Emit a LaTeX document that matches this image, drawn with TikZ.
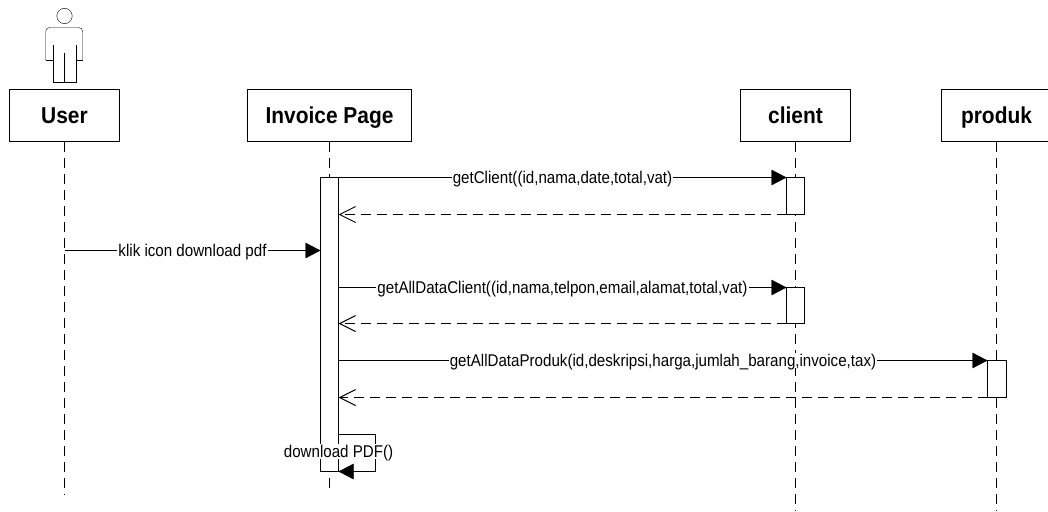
\documentclass[tikz,border=0pt]{standalone}
\usepackage{fontspec}
\setmainfont{Liberation Sans}
\newfontfamily\lblfont[FakeStretch=0.89]{Liberation Sans}
\newfontfamily\ttlfont[FakeStretch=0.91]{Liberation Sans Bold}
\usetikzlibrary{arrows.meta}
\tikzset{
  x=1pt,y=-1pt,line width=1pt,
  titlebox/.style={draw,fill=white,minimum height=52pt,inner sep=0pt,text height=18pt,text depth=2pt,font=\ttlfont\fontsize{23}{26}\selectfont},
  lifeline/.style={draw,dash pattern=on 10pt off 6pt},
  actbox/.style={draw,fill=white,minimum width=18pt,inner sep=0pt},
  call/.style={draw,-{Triangle[length=15pt,width=15.5pt]}},
  reply/.style={draw,dash pattern=on 10pt off 6pt,-{Straight Barb[length=16pt,width=16pt,line width=1pt]}},
  msglabel/.style={fill=white,inner xsep=1pt,inner ysep=0pt,text height=13.5pt,text depth=1pt,font=\lblfont\fontsize{17}{19}\selectfont},
}
\begin{document}
\begin{tikzpicture}
\useasboundingbox (0,0) rectangle (1048,511);
% actor
\draw (64.5,16) circle (7.7);
\draw[rounded corners=4pt] (45.7,60) -- (45.7,27.5) -- (82.7,27.5) -- (82.7,60);
\draw (82.7,60) -- (75.7,60) -- (75.7,82.3) -- (53.3,82.3) -- (53.3,60) -- (45.7,60);
\draw (53.3,45) -- (53.3,60) (75.7,45) -- (75.7,60) (64.5,52.7) -- (64.5,82.3);
% boxes
\node[titlebox,minimum width=110pt] (user) at (64.5,115.5) {User};
\node[titlebox,minimum width=164pt] (page) at (329.5,115.5) {Invoice Page};
\node[titlebox,minimum width=110pt] (client) at (795.5,115.5) {client};
\node[titlebox,minimum width=110pt] (produk) at (996.5,115.5) {produk};
% lifeline ends
\coordinate (userend) at (64.5,495);
\coordinate (pageend) at (329.5,493);
\coordinate (clientend) at (795.5,511);
\coordinate (produkend) at (996.5,511);
\path[lifeline] (user.south) -- (userend);
\path[lifeline] (page.south) -- (pageend);
\path[lifeline] (client.south) -- (clientend);
\path[lifeline] (produk.south) -- (produkend);
% activations
\node[actbox,minimum height=294pt] (apage) at (329.5,324.5) {};
\node[actbox,minimum height=37pt] (ac1) at (795.5,196) {};
\node[actbox,minimum height=36pt] (ac2) at (795.5,305.5) {};
\node[actbox,minimum height=37pt,minimum width=18.5pt] (ap1) at (996.75,379) {};
% messages
\coordinate (m1a) at (338.5,177.5);
\coordinate (m1b) at (786.5,177.5);
\coordinate (r1a) at (786.5,214.5);
\coordinate (r1b) at (338.5,214.5);
\coordinate (m2a) at (64.5,250.5);
\coordinate (m2b) at (320.5,250.5);
\coordinate (m3a) at (338.5,287.5);
\coordinate (m3b) at (786.5,287.5);
\coordinate (r3a) at (786.5,323.5);
\coordinate (r3b) at (338.5,323.5);
\coordinate (m4a) at (338.5,360.5);
\coordinate (m4b) at (987.5,360.5);
\coordinate (r4a) at (987.5,397.5);
\coordinate (r4b) at (338.5,397.5);
\path[call] (m1a) -- node[msglabel] (l1) {getClient((id,nama,date,total,vat)} (m1b);
\path[reply] (r1a) -- (r1b);
\path[call] (m2a) -- node[msglabel] (l2) {klik icon download pdf} (m2b);
\path[call] (m3a) -- node[msglabel] (l3) {getAllDataClient((id,nama,telpon,email,alamat,total,vat)} (m3b);
\path[reply] (r3a) -- (r3b);
\path[call] (m4a) -- node[msglabel] (l4) {getAllDataProduk(id,deskripsi,harga,jumlah\_barang,invoice,tax)} (m4b);
\path[reply] (r4a) -- (r4b);
% self message
\coordinate (s1) at (338.5,434.5);
\coordinate (s2) at (375,434.5);
\coordinate (s3) at (375,471.5);
\coordinate (s4) at (338.5,471.5);
\coordinate (slabel) at (338.5,451.5);
\path[call] (s1) -- (s2) -- (s3) -- (s4);
\node[msglabel] (l5) at (slabel) {download PDF()};
\end{tikzpicture}
\end{document}
